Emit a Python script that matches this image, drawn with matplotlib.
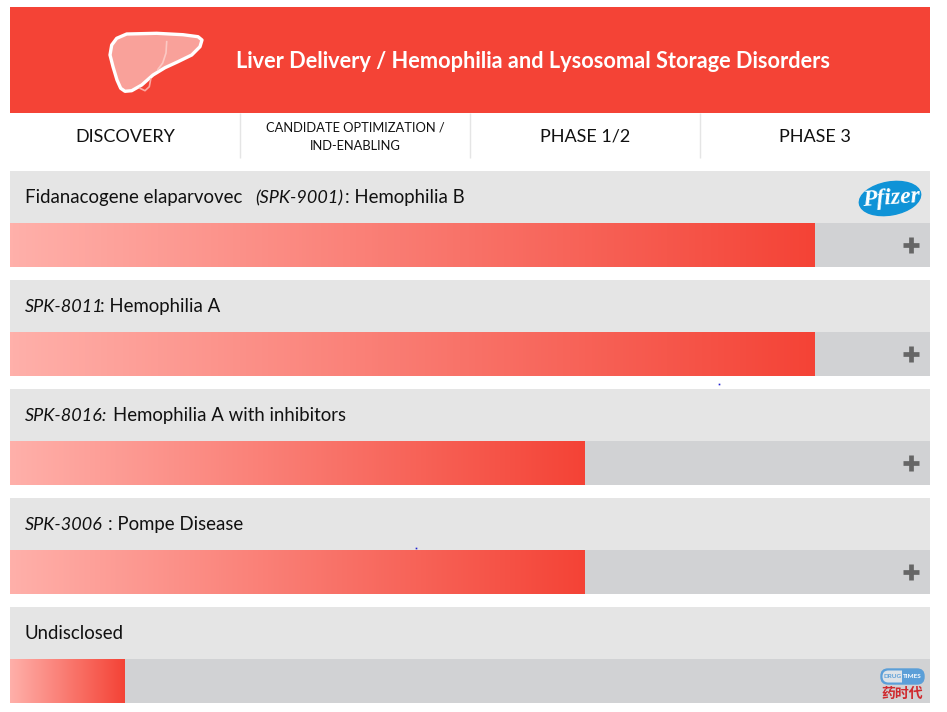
import matplotlib.pyplot as plt
import numpy as np
from matplotlib.patches import Ellipse, FancyBboxPatch, Rectangle
from matplotlib.colors import LinearSegmentedColormap

FONT = 'Lato'
RED = '#F44336'

phases = ["DISCOVERY", "CANDIDATE OPTIMIZATION /\nIND-ENABLING", "PHASE 1/2", "PHASE 3"]
# each label is made of pieces: text, style, left edge in pixels
programs = [
    ([("Fidanacogene elaparvovec", 'normal', 25), ("(SPK-9001)", 'italic', 255), (": Hemophilia B", 'normal', 345)], 3.5),
    ([("SPK-8011", 'italic', 25), (": Hemophilia A", 'normal', 100)], 3.5),
    ([("SPK-8016:", 'italic', 25), ("Hemophilia A with inhibitors", 'normal', 113)], 2.5),
    ([("SPK-3006", 'italic', 25), (": Pompe Disease", 'normal', 108)], 2.5),
    ([("Undisclosed", 'normal', 25)], 0.5),
]

# outline of the liver, in pixels of the picture
liver_x = [126.7, 156.7, 183, 198, 202, 200, 191.7, 178, 165, 153, 141.7, 131.7, 125, 120.7, 117, 113, 110, 111.7, 116.7, 126.7]
liver_y = [34, 33.3, 34.7, 36.7, 40, 46.7, 55, 61.7, 67.7, 75, 85, 90.7, 91.3, 88.3, 80, 66.7, 55, 45, 38.3, 34]


def draw_row(top, label, stage):
    plt.barh(top + 26, 4, height=52, left=0, color='#E5E5E5')
    plt.barh(top + 74, 4, height=44, left=0, color='#D1D2D4')
    plt.imshow(np.linspace(0, 1, 256).reshape(1, -1), cmap=grad, aspect='auto',
               extent=(0, stage, top + 96, top + 52), zorder=3)
    for piece, style, left in label:
        size = 13 if style == 'italic' else 13.4
        plt.text((left - 10) / 230, top + 32, piece, fontsize=size, style=style, va='baseline', color='#111111')


plt.rcParams.update({'font.family': [FONT, 'DejaVu Sans']})
grad = LinearSegmentedColormap.from_list('bar', ['#FFB0AA', RED])

plt.figure(figsize=(9.47, 7.12), dpi=100)

# the bars: x counts the phases, y stays in pixels
plt.axes([10 / 947, 0, 920 / 947, 1])
plt.xlim(0, 4)
plt.ylim(712, 0)
plt.axis('off')

plt.barh(60, 4, height=106, left=0, color=RED)
plt.text(2.274, 61, "Liver Delivery / Hemophilia and Lysosomal Storage Disorders", fontsize=15.7, fontweight='bold',
         color='white', ha='center', va='center')

for i in range(4):
    size = 9.3 if i == 1 else 13
    plt.text(i + 0.5, 137, phases[i], fontsize=size, ha='center', va='center', color='#111111', linespacing=1.6)
    if i > 0:
        plt.vlines(i, 113, 158, color='#E5E5E5', lw=1)

for i in range(len(programs)):
    draw_row(171 + 109 * i, programs[i][0], programs[i][1])

for i in range(4):
    plt.plot(3.917, 245 + 109 * i, '+', color='#666666', ms=12, mew=3.4, zorder=4)

plt.xlim(0, 4)
plt.ylim(712, 0)

# the drawings on top, in pixels of the picture
plt.axes([0, 0, 1, 1], facecolor='none')
plt.xlim(0, 947)
plt.ylim(712, 0)
plt.axis('off')
ax = plt.gca()

plt.plot([140, 145, 149.3, 150.7], [88.3, 90.7, 86.7, 79.3], color='#FBA9A2', lw=1.2)
plt.fill(liver_x, liver_y, facecolor='#F9A19A', edgecolor='white', lw=2.4, joinstyle='round')
plt.plot([166.7, 166, 162.7, 158], [41.7, 53, 63, 69.3], color='#FCC9C4', lw=1.2)

ax.add_patch(Ellipse((890, 198.5), 62, 33, angle=-10, color='#0F93D7'))
plt.text(891, 199, "Pfizer", fontsize=17, fontweight='bold', style='italic', family='Liberation Serif',
         color='white', ha='center', va='center', rotation=4)

ax.add_patch(FancyBboxPatch((881, 669), 43, 15, boxstyle='round,pad=0,rounding_size=7', facecolor='#5B9FD8',
                            edgecolor='#5B9FD8', lw=1))
ax.add_patch(FancyBboxPatch((882.5, 670.5), 30, 12, boxstyle='round,pad=0,rounding_size=6', facecolor='#DDE3E8',
                            edgecolor='none'))
ax.add_patch(Rectangle((901.5, 670), 12, 13.5, facecolor='#5B9FD8', edgecolor='none'))
plt.text(892.5, 676.5, "DRUG", fontsize=4.6, fontweight='bold', color='#5B9FD8', ha='center', va='center')
plt.text(912.5, 676.5, "TIMES", fontsize=4.6, fontweight='bold', color='white', ha='center', va='center')
plt.text(902.5, 693.5, "药时代", fontsize=10, fontweight='bold', family=['Noto Sans CJK SC', 'DejaVu Sans'],
         color='#CF2A2E', ha='center', va='center')

# two stray blue specks
plt.plot([719, 416], [384, 548], 's', color='#2020D0', ms=1.2, mew=0)

plt.savefig("out.png", dpi=100)
